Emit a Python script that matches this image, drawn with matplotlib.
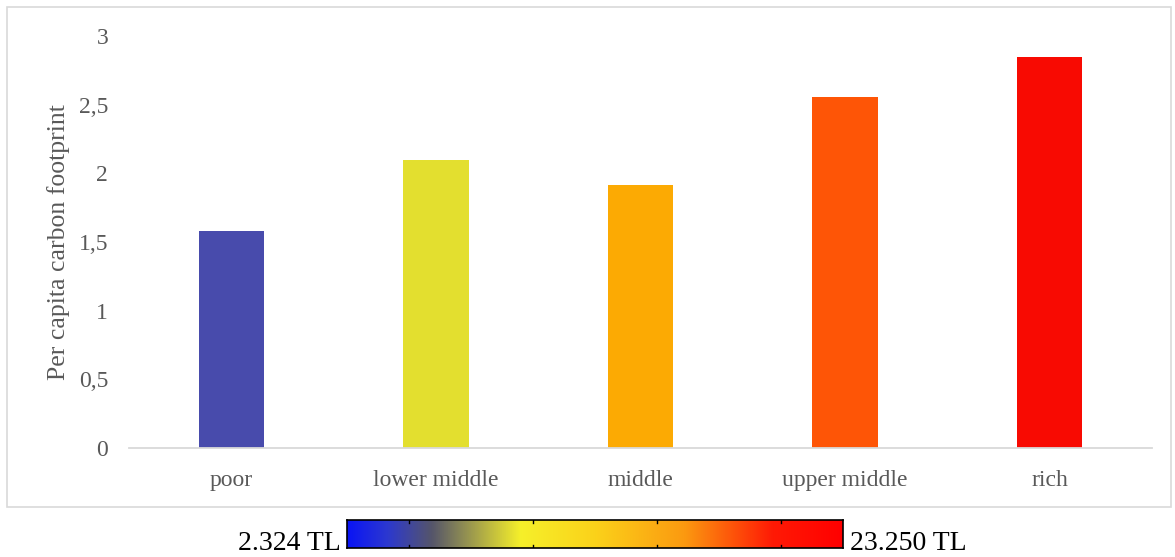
import matplotlib.pyplot as plt
import numpy as np
from matplotlib.colors import LinearSegmentedColormap
from matplotlib.patches import Rectangle

categories = ['poor', 'lower middle', 'middle', 'upper middle', 'rich']
footprint = [1.58, 2.10, 1.915, 2.555, 2.85]
bar_colors = ['#484BAC', '#E3DF2F', '#FCAA03', '#FE5506', '#F80A02']
yticks = [0, 0.5, 1, 1.5, 2, 2.5, 3]
ytick_labels = ['0', '0,5', '1', '1,5', '2', '2,5', '3']
income_low = '2.324 TL'
income_high = '23.250 TL'

plt.rcParams['font.family'] = ['Liberation Serif', 'DejaVu Serif']
grey = '#595959'

fig = plt.figure(figsize=(11.75, 5.57), dpi=100)

# light frame round the chart area
fig.patches.append(Rectangle((7 / 1175, 1 - 507 / 557), 1164 / 1175, 500 / 557,
                             transform=fig.transFigure, fill=False,
                             edgecolor='#D9D9D9', linewidth=1.2))

ax = fig.add_axes([129 / 1175, 1 - 448 / 557, 1023 / 1175, 412 / 557])
x = np.arange(len(categories))
ax.bar(x, footprint, width=0.32, color=bar_colors)
ax.set_xlim(-0.5, len(categories) - 0.5)
ax.set_ylim(0, 3)
ax.set_xticks(x)
ax.set_xticklabels(categories, fontsize=17, color=grey)
ax.set_yticks(yticks)
ax.set_yticklabels(ytick_labels, fontsize=17, color=grey)
ax.tick_params(length=0)
ax.tick_params(axis='y', pad=15)
ax.tick_params(axis='x', pad=16)
for side in ['top', 'right', 'left']:
    ax.spines[side].set_visible(False)
ax.spines['bottom'].set_color('#D9D9D9')
ax.spines['bottom'].set_linewidth(1.3)
ax.set_ylabel('Per capita carbon footprint', fontsize=18.5, color=grey, labelpad=6)

# income colour scale under the chart
cmap = LinearSegmentedColormap.from_list('income', [
    (0.0, '#0A14F5'), (0.08, '#2C38D0'), (0.17, '#55556A'),
    (0.35, '#F6F02A'), (0.5, '#FBD21A'), (0.68, '#FB9A10'),
    (0.86, '#FF1A05'), (1.0, '#FF0000')])
cax = fig.add_axes([347 / 1175, 9 / 557, 496 / 1175, 28 / 557])
cax.imshow(np.linspace(0, 1, 256)[None, :], aspect='auto', cmap=cmap,
           extent=[0, 1, 0, 1])
cax.set_xticks([])
cax.set_yticks([])
for f in [0.125, 0.375, 0.625, 0.875]:
    cax.plot([f, f], [0, 0.12], color='black', linewidth=1)
    cax.plot([f, f], [0.88, 1], color='black', linewidth=1)
for s in cax.spines.values():
    s.set_linewidth(1.2)
fig.text(341 / 1175, 13 / 557, income_low, ha='right', va='center', fontsize=20)
fig.text(850 / 1175, 13 / 557, income_high, ha='left', va='center', fontsize=20)

fig.savefig('out.png', dpi=100)
